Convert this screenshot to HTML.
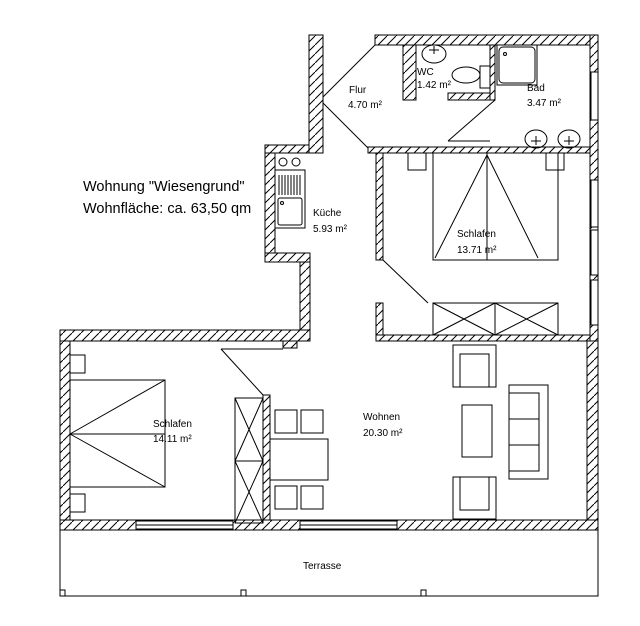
<!DOCTYPE html>
<html><head><meta charset="utf-8"><style>
html,body{margin:0;padding:0;background:#fff;}
svg{display:block;font-family:"Liberation Sans",Arial,sans-serif;}
</style></head><body>
<svg width="640" height="626" viewBox="0 0 640 626" xmlns="http://www.w3.org/2000/svg">
<defs>
<pattern id="h" patternUnits="userSpaceOnUse" width="9" height="9">
<rect width="9" height="9" fill="#fff"/>
<path d="M-1,10 L10,-1" stroke="#000" stroke-width="1"/>
</pattern>
</defs>
<g fill="url(#h)" stroke="#000" stroke-width="1">
<rect x="309" y="35" width="14" height="118"/>
<rect x="375" y="35" width="223" height="10"/>
<rect x="590" y="35" width="8" height="495"/>
<rect x="403" y="45" width="13" height="55"/>
<rect x="448" y="93" width="47" height="7"/>
<rect x="490" y="45" width="5" height="55"/>
<rect x="368" y="147" width="222" height="6"/>
<rect x="376" y="153" width="7" height="107"/>
<rect x="376" y="303" width="7" height="32"/>
<rect x="376" y="335" width="214" height="6"/>
<rect x="265" y="145" width="44" height="8"/>
<rect x="265" y="153" width="10" height="109"/>
<rect x="265" y="253" width="45" height="9"/>
<rect x="300" y="262" width="10" height="79"/>
<rect x="60" y="330" width="250" height="11"/>
<rect x="283" y="341" width="14" height="7"/>
<rect x="60" y="341" width="10" height="189"/>
<rect x="587" y="341" width="11" height="189"/>
<rect x="60" y="520" width="538" height="10"/>
<rect x="263" y="395" width="7" height="125"/>
</g>
<g fill="#fff" stroke="#000" stroke-width="1">
<rect x="136" y="521" width="97" height="8"/>
<line x1="136" y1="525" x2="233" y2="525"/>
<rect x="300" y="521" width="97" height="8"/>
<line x1="300" y1="525" x2="397" y2="525"/>
<rect x="591" y="72" width="7" height="48"/>
<rect x="591" y="180" width="7" height="47"/>
<rect x="591" y="230" width="7" height="45"/>
<rect x="591" y="280" width="7" height="45"/>
</g>
<g fill="none" stroke="#000" stroke-width="1">
<line x1="323" y1="97" x2="375" y2="45"/>
<line x1="323" y1="103" x2="368" y2="148"/>
<line x1="448" y1="141" x2="495" y2="100"/>
<line x1="448" y1="141" x2="490" y2="141"/>
<line x1="383" y1="260" x2="428" y2="303"/>
<line x1="221" y1="349" x2="263" y2="395"/>
<line x1="221" y1="349" x2="283" y2="349"/>
<rect x="60" y="530" width="538" height="66"/>
<rect x="60" y="590" width="5" height="6"/>
<rect x="241" y="590" width="5" height="6"/>
<rect x="421" y="590" width="5" height="6"/>
<rect x="433" y="303" width="125" height="32"/>
<line x1="495" y1="303" x2="495" y2="335"/>
<path d="M433,303 L495,335 M495,303 L433,335 M495,303 L558,335 M558,303 L495,335"/>
<rect x="433" y="153" width="125" height="107"/>
<line x1="487" y1="153" x2="487" y2="260"/>
<path d="M487,155 L435,258 M487,155 L538,258"/>
<rect x="408" y="153" width="18" height="17"/>
<rect x="546" y="153" width="18" height="17"/>
<rect x="497" y="45" width="40" height="40"/>
<rect x="499" y="47" width="36" height="36" rx="4"/>
<circle cx="505" cy="54" r="1.5"/>
<ellipse cx="536" cy="139" rx="11" ry="9"/>
<path d="M531,141 h10 M536,136 v9"/>
<ellipse cx="569" cy="139" rx="11" ry="9"/>
<path d="M564,141 h10 M569,136 v9"/>
<ellipse cx="434" cy="54" rx="12" ry="9"/>
<path d="M429,50 h10 M434,46 v8"/>
<ellipse cx="466" cy="75" rx="14" ry="8"/>
<rect x="480" y="66" width="10" height="22"/>
<circle cx="283" cy="162" r="4"/>
<circle cx="296" cy="162" r="4"/>
<rect x="275" y="170" width="30" height="58"/>
<rect x="278" y="198" width="24" height="27" rx="2"/>
<path d="M279,175 v20 M282,175 v20 M285,175 v20 M288,175 v20 M291,175 v20 M294,175 v20 M297,175 v20 M300,175 v20"/>
<circle cx="282" cy="203" r="1.5"/>
<rect x="70" y="380" width="95" height="107"/>
<path d="M70,434 L165,380 M70,434 L165,487 M70,434 L165,434"/>
<rect x="70" y="355" width="15" height="18"/>
<rect x="70" y="494" width="15" height="18"/>
<rect x="235" y="398" width="28" height="125"/>
<line x1="235" y1="461" x2="263" y2="461"/>
<path d="M235,398 L263,461 M263,398 L235,461 M235,461 L263,523 M263,461 L235,523"/>
<rect x="275" y="410" width="22" height="23"/>
<rect x="301" y="410" width="22" height="23"/>
<rect x="270" y="439" width="58" height="41"/>
<rect x="275" y="486" width="22" height="23"/>
<rect x="301" y="486" width="22" height="23"/>
<rect x="453" y="345" width="43" height="42"/>
<rect x="460" y="354" width="29" height="33"/>
<rect x="453" y="477" width="43" height="42"/>
<rect x="460" y="477" width="29" height="33"/>
<rect x="462" y="405" width="30" height="52"/>
<rect x="509" y="385" width="39" height="94"/>
<rect x="509" y="393" width="30" height="78"/>
<line x1="509" y1="419" x2="539" y2="419"/>
<line x1="509" y1="445" x2="539" y2="445"/>
</g>
<g fill="#000" font-size="10">
<text x="349" y="93">Flur</text>
<text x="348" y="108">4.70 m²</text>
<text x="417" y="75">WC</text>
<text x="417" y="88">1.42 m²</text>
<text x="527" y="91">Bad</text>
<text x="527" y="106">3.47 m²</text>
<text x="313" y="216">Küche</text>
<text x="313" y="232">5.93 m²</text>
<text x="457" y="237">Schlafen</text>
<text x="457" y="253">13.71 m²</text>
<text x="153" y="427">Schlafen</text>
<text x="153" y="442">14.11 m²</text>
<text x="363" y="420">Wohnen</text>
<text x="363" y="436">20.30 m²</text>
<text x="303" y="569">Terrasse</text>
</g>
<g fill="#000" font-size="14.5">
<text x="83" y="191">Wohnung "Wiesengrund"</text>
<text x="83" y="213">Wohnfläche: ca. 63,50 qm</text>
</g>
</svg>
</body></html>
